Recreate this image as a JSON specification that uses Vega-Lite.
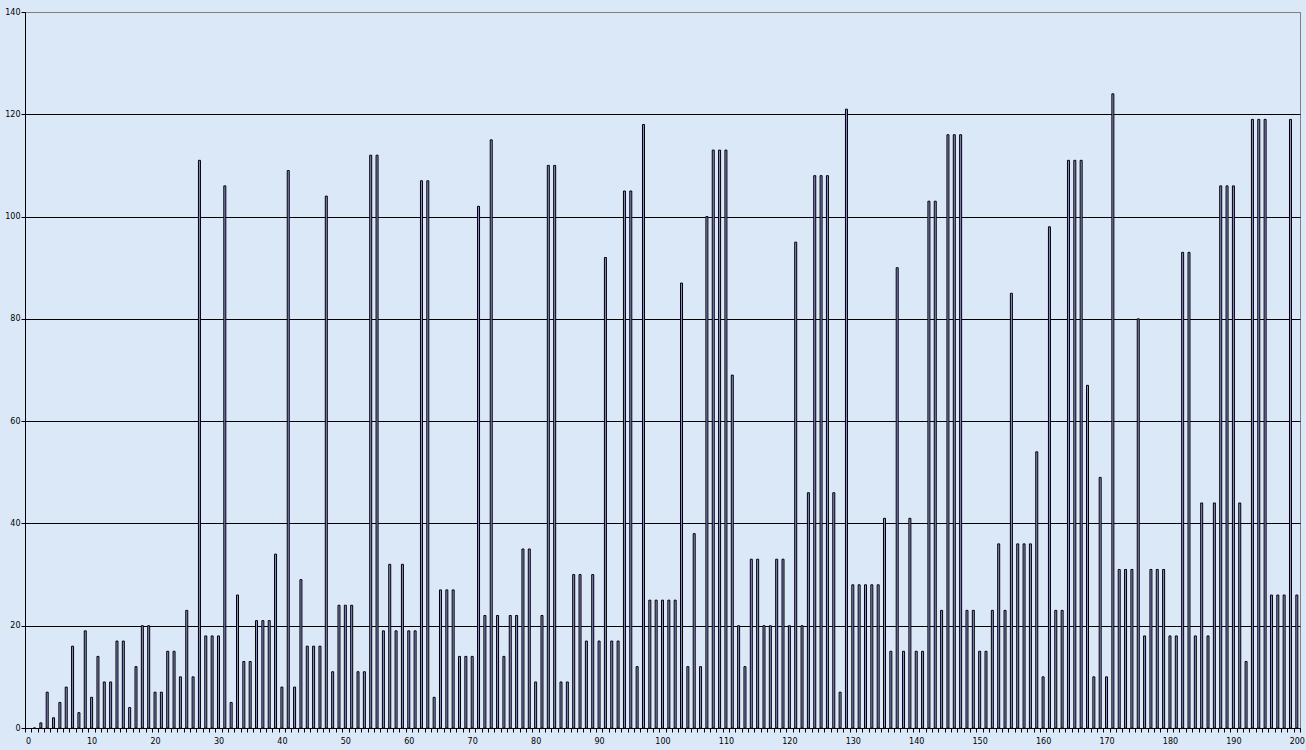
{
  "$schema": "https://vega.github.io/schema/vega-lite/v6.json",
  "width": 1275,
  "height": 716,
  "autosize": "none",
  "padding": {"left": 25, "top": 12, "right": 6, "bottom": 22},
  "background": "#DBE8F8",
  "config": {
    "view": {"stroke": "#808080", "strokeWidth": 1, "fill": "#DBE8F8"},
    "axis": {
      "labelFont": "DejaVu Sans",
      "labelFontSize": 8,
      "labelColor": "#000000",
      "domainColor": "#000000",
      "tickColor": "#000000",
      "tickSize": 4,
      "title": null
    }
  },
  "data": {
    "values": [
      {"x": 1, "y": 0}, {"x": 2, "y": 1}, {"x": 3, "y": 7}, {"x": 4, "y": 2}, {"x": 5, "y": 5},
      {"x": 6, "y": 8}, {"x": 7, "y": 16}, {"x": 8, "y": 3}, {"x": 9, "y": 19}, {"x": 10, "y": 6},
      {"x": 11, "y": 14}, {"x": 12, "y": 9}, {"x": 13, "y": 9}, {"x": 14, "y": 17}, {"x": 15, "y": 17},
      {"x": 16, "y": 4}, {"x": 17, "y": 12}, {"x": 18, "y": 20}, {"x": 19, "y": 20}, {"x": 20, "y": 7},
      {"x": 21, "y": 7}, {"x": 22, "y": 15}, {"x": 23, "y": 15}, {"x": 24, "y": 10}, {"x": 25, "y": 23},
      {"x": 26, "y": 10}, {"x": 27, "y": 111}, {"x": 28, "y": 18}, {"x": 29, "y": 18}, {"x": 30, "y": 18},
      {"x": 31, "y": 106}, {"x": 32, "y": 5}, {"x": 33, "y": 26}, {"x": 34, "y": 13}, {"x": 35, "y": 13},
      {"x": 36, "y": 21}, {"x": 37, "y": 21}, {"x": 38, "y": 21}, {"x": 39, "y": 34}, {"x": 40, "y": 8},
      {"x": 41, "y": 109}, {"x": 42, "y": 8}, {"x": 43, "y": 29}, {"x": 44, "y": 16}, {"x": 45, "y": 16},
      {"x": 46, "y": 16}, {"x": 47, "y": 104}, {"x": 48, "y": 11}, {"x": 49, "y": 24}, {"x": 50, "y": 24},
      {"x": 51, "y": 24}, {"x": 52, "y": 11}, {"x": 53, "y": 11}, {"x": 54, "y": 112}, {"x": 55, "y": 112},
      {"x": 56, "y": 19}, {"x": 57, "y": 32}, {"x": 58, "y": 19}, {"x": 59, "y": 32}, {"x": 60, "y": 19},
      {"x": 61, "y": 19}, {"x": 62, "y": 107}, {"x": 63, "y": 107}, {"x": 64, "y": 6}, {"x": 65, "y": 27},
      {"x": 66, "y": 27}, {"x": 67, "y": 27}, {"x": 68, "y": 14}, {"x": 69, "y": 14}, {"x": 70, "y": 14},
      {"x": 71, "y": 102}, {"x": 72, "y": 22}, {"x": 73, "y": 115}, {"x": 74, "y": 22}, {"x": 75, "y": 14},
      {"x": 76, "y": 22}, {"x": 77, "y": 22}, {"x": 78, "y": 35}, {"x": 79, "y": 35}, {"x": 80, "y": 9},
      {"x": 81, "y": 22}, {"x": 82, "y": 110}, {"x": 83, "y": 110}, {"x": 84, "y": 9}, {"x": 85, "y": 9},
      {"x": 86, "y": 30}, {"x": 87, "y": 30}, {"x": 88, "y": 17}, {"x": 89, "y": 30}, {"x": 90, "y": 17},
      {"x": 91, "y": 92}, {"x": 92, "y": 17}, {"x": 93, "y": 17}, {"x": 94, "y": 105}, {"x": 95, "y": 105},
      {"x": 96, "y": 12}, {"x": 97, "y": 118}, {"x": 98, "y": 25}, {"x": 99, "y": 25}, {"x": 100, "y": 25},
      {"x": 101, "y": 25}, {"x": 102, "y": 25}, {"x": 103, "y": 87}, {"x": 104, "y": 12}, {"x": 105, "y": 38},
      {"x": 106, "y": 12}, {"x": 107, "y": 100}, {"x": 108, "y": 113}, {"x": 109, "y": 113}, {"x": 110, "y": 113},
      {"x": 111, "y": 69}, {"x": 112, "y": 20}, {"x": 113, "y": 12}, {"x": 114, "y": 33}, {"x": 115, "y": 33},
      {"x": 116, "y": 20}, {"x": 117, "y": 20}, {"x": 118, "y": 33}, {"x": 119, "y": 33}, {"x": 120, "y": 20},
      {"x": 121, "y": 95}, {"x": 122, "y": 20}, {"x": 123, "y": 46}, {"x": 124, "y": 108}, {"x": 125, "y": 108},
      {"x": 126, "y": 108}, {"x": 127, "y": 46}, {"x": 128, "y": 7}, {"x": 129, "y": 121}, {"x": 130, "y": 28},
      {"x": 131, "y": 28}, {"x": 132, "y": 28}, {"x": 133, "y": 28}, {"x": 134, "y": 28}, {"x": 135, "y": 41},
      {"x": 136, "y": 15}, {"x": 137, "y": 90}, {"x": 138, "y": 15}, {"x": 139, "y": 41}, {"x": 140, "y": 15},
      {"x": 141, "y": 15}, {"x": 142, "y": 103}, {"x": 143, "y": 103}, {"x": 144, "y": 23}, {"x": 145, "y": 116},
      {"x": 146, "y": 116}, {"x": 147, "y": 116}, {"x": 148, "y": 23}, {"x": 149, "y": 23}, {"x": 150, "y": 15},
      {"x": 151, "y": 15}, {"x": 152, "y": 23}, {"x": 153, "y": 36}, {"x": 154, "y": 23}, {"x": 155, "y": 85},
      {"x": 156, "y": 36}, {"x": 157, "y": 36}, {"x": 158, "y": 36}, {"x": 159, "y": 54}, {"x": 160, "y": 10},
      {"x": 161, "y": 98}, {"x": 162, "y": 23}, {"x": 163, "y": 23}, {"x": 164, "y": 111}, {"x": 165, "y": 111},
      {"x": 166, "y": 111}, {"x": 167, "y": 67}, {"x": 168, "y": 10}, {"x": 169, "y": 49}, {"x": 170, "y": 10},
      {"x": 171, "y": 124}, {"x": 172, "y": 31}, {"x": 173, "y": 31}, {"x": 174, "y": 31}, {"x": 175, "y": 80},
      {"x": 176, "y": 18}, {"x": 177, "y": 31}, {"x": 178, "y": 31}, {"x": 179, "y": 31}, {"x": 180, "y": 18},
      {"x": 181, "y": 18}, {"x": 182, "y": 93}, {"x": 183, "y": 93}, {"x": 184, "y": 18}, {"x": 185, "y": 44},
      {"x": 186, "y": 18}, {"x": 187, "y": 44}, {"x": 188, "y": 106}, {"x": 189, "y": 106}, {"x": 190, "y": 106},
      {"x": 191, "y": 44}, {"x": 192, "y": 13}, {"x": 193, "y": 119}, {"x": 194, "y": 119}, {"x": 195, "y": 119},
      {"x": 196, "y": 26}, {"x": 197, "y": 26}, {"x": 198, "y": 26}, {"x": 199, "y": 119}, {"x": 200, "y": 26}
    ]
  },
  "mark": {
    "type": "bar",
    "orient": "vertical",
    "size": 2,
    "fill": "#8C8CD0",
    "stroke": "#000000",
    "strokeWidth": 1
  },
  "encoding": {
    "x": {
      "field": "x",
      "type": "quantitative",
      "scale": {"domain": [-0.5, 200.5], "nice": false, "zero": false, "padding": 0},
      "axis": {
        "grid": false,
        "labelOverlap": false,
        "labelFlush": false,
        "labelPadding": 5,
        "labelExpr": "datum.value % 1 == 0 ? datum.label : ''",
        "tickOpacity": {"condition": {"test": "datum.value % 1 == 0", "value": 0}, "value": 1},
        "values": [
          -0.5, 0.5, 1.5, 2.5, 3.5, 4.5, 5.5, 6.5, 7.5, 8.5, 9.5, 10.5, 11.5, 12.5, 13.5, 14.5, 15.5, 16.5, 17.5, 18.5, 19.5,
          20.5, 21.5, 22.5, 23.5, 24.5, 25.5, 26.5, 27.5, 28.5, 29.5, 30.5, 31.5, 32.5, 33.5, 34.5, 35.5, 36.5, 37.5, 38.5, 39.5,
          40.5, 41.5, 42.5, 43.5, 44.5, 45.5, 46.5, 47.5, 48.5, 49.5, 50.5, 51.5, 52.5, 53.5, 54.5, 55.5, 56.5, 57.5, 58.5, 59.5,
          60.5, 61.5, 62.5, 63.5, 64.5, 65.5, 66.5, 67.5, 68.5, 69.5, 70.5, 71.5, 72.5, 73.5, 74.5, 75.5, 76.5, 77.5, 78.5, 79.5,
          80.5, 81.5, 82.5, 83.5, 84.5, 85.5, 86.5, 87.5, 88.5, 89.5, 90.5, 91.5, 92.5, 93.5, 94.5, 95.5, 96.5, 97.5, 98.5, 99.5,
          100.5, 101.5, 102.5, 103.5, 104.5, 105.5, 106.5, 107.5, 108.5, 109.5, 110.5, 111.5, 112.5, 113.5, 114.5, 115.5, 116.5, 117.5, 118.5, 119.5,
          120.5, 121.5, 122.5, 123.5, 124.5, 125.5, 126.5, 127.5, 128.5, 129.5, 130.5, 131.5, 132.5, 133.5, 134.5, 135.5, 136.5, 137.5, 138.5, 139.5,
          140.5, 141.5, 142.5, 143.5, 144.5, 145.5, 146.5, 147.5, 148.5, 149.5, 150.5, 151.5, 152.5, 153.5, 154.5, 155.5, 156.5, 157.5, 158.5, 159.5,
          160.5, 161.5, 162.5, 163.5, 164.5, 165.5, 166.5, 167.5, 168.5, 169.5, 170.5, 171.5, 172.5, 173.5, 174.5, 175.5, 176.5, 177.5, 178.5, 179.5,
          180.5, 181.5, 182.5, 183.5, 184.5, 185.5, 186.5, 187.5, 188.5, 189.5, 190.5, 191.5, 192.5, 193.5, 194.5, 195.5, 196.5, 197.5, 198.5, 199.5,
          200.5,
          0, 10, 20, 30, 40, 50, 60, 70, 80, 90, 100, 110, 120, 130, 140, 150, 160, 170, 180, 190, 200
        ]
      }
    },
    "y": {
      "field": "y",
      "type": "quantitative",
      "scale": {"domain": [0, 140], "nice": false},
      "axis": {
        "values": [0, 20, 40, 60, 80, 100, 120, 140],
        "grid": true,
        "gridColor": {"condition": {"test": "datum.value == 140", "value": "#808080"}, "value": "#000000"},
        "gridOpacity": 1,
        "labelPadding": 1
      }
    }
  }
}
